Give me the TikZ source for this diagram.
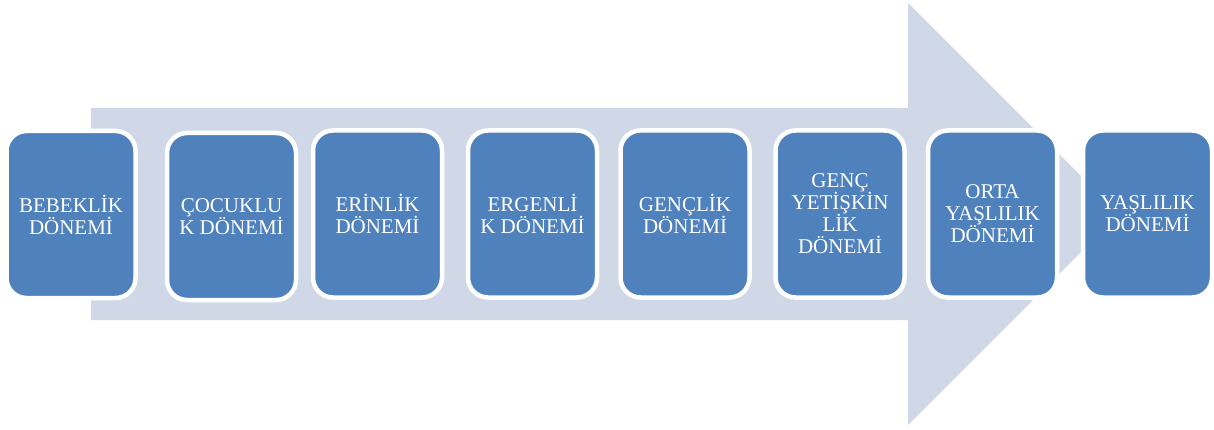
\documentclass[tikz,border=0pt]{standalone}
\usepackage{fontspec}
\setmainfont{Liberation Serif}
\definecolor{arrowc}{HTML}{D0D8E8}
\definecolor{boxc}{HTML}{4F81BD}
\begin{document}
\begin{tikzpicture}[x=1pt,y=-1pt,
  stagebox/.style={draw=white, line width=4.5pt, fill=boxc, rounded corners=20pt,
    minimum width=129pt, minimum height=167pt, text=white, align=center,
    font=\fontsize{21}{22}\selectfont, inner sep=2pt}]
\useasboundingbox (0,0) rectangle (1214,430);
\fill[arrowc] (91,108) -- (908,108) -- (908,3) -- (1119,214) -- (908,425) -- (908,320) -- (91,320) -- cycle;
\node[stagebox] (b1) at (71,214.5) {BEBEKLİK\\DÖNEMİ};
\node[stagebox] (b2) at (231.5,216.5) {ÇOCUKLU\\K DÖNEMİ};
\node[stagebox] (b3) at (377.5,214) {ERİNLİK\\DÖNEMİ};
\node[stagebox] (b4) at (532.5,214) {ERGENLİ\\K DÖNEMİ};
\node[stagebox] (b5) at (685,214) {GENÇLİK\\DÖNEMİ};
\node[stagebox] (b6) at (840,214) {GENÇ\\YETİŞKİN\\LİK\\DÖNEMİ};
\node[stagebox] (b7) at (992.5,214) {ORTA\\YAŞLILIK\\DÖNEMİ};
\node[stagebox] (b8) at (1147.5,214) {YAŞLILIK\\DÖNEMİ};
\end{tikzpicture}
\end{document}
